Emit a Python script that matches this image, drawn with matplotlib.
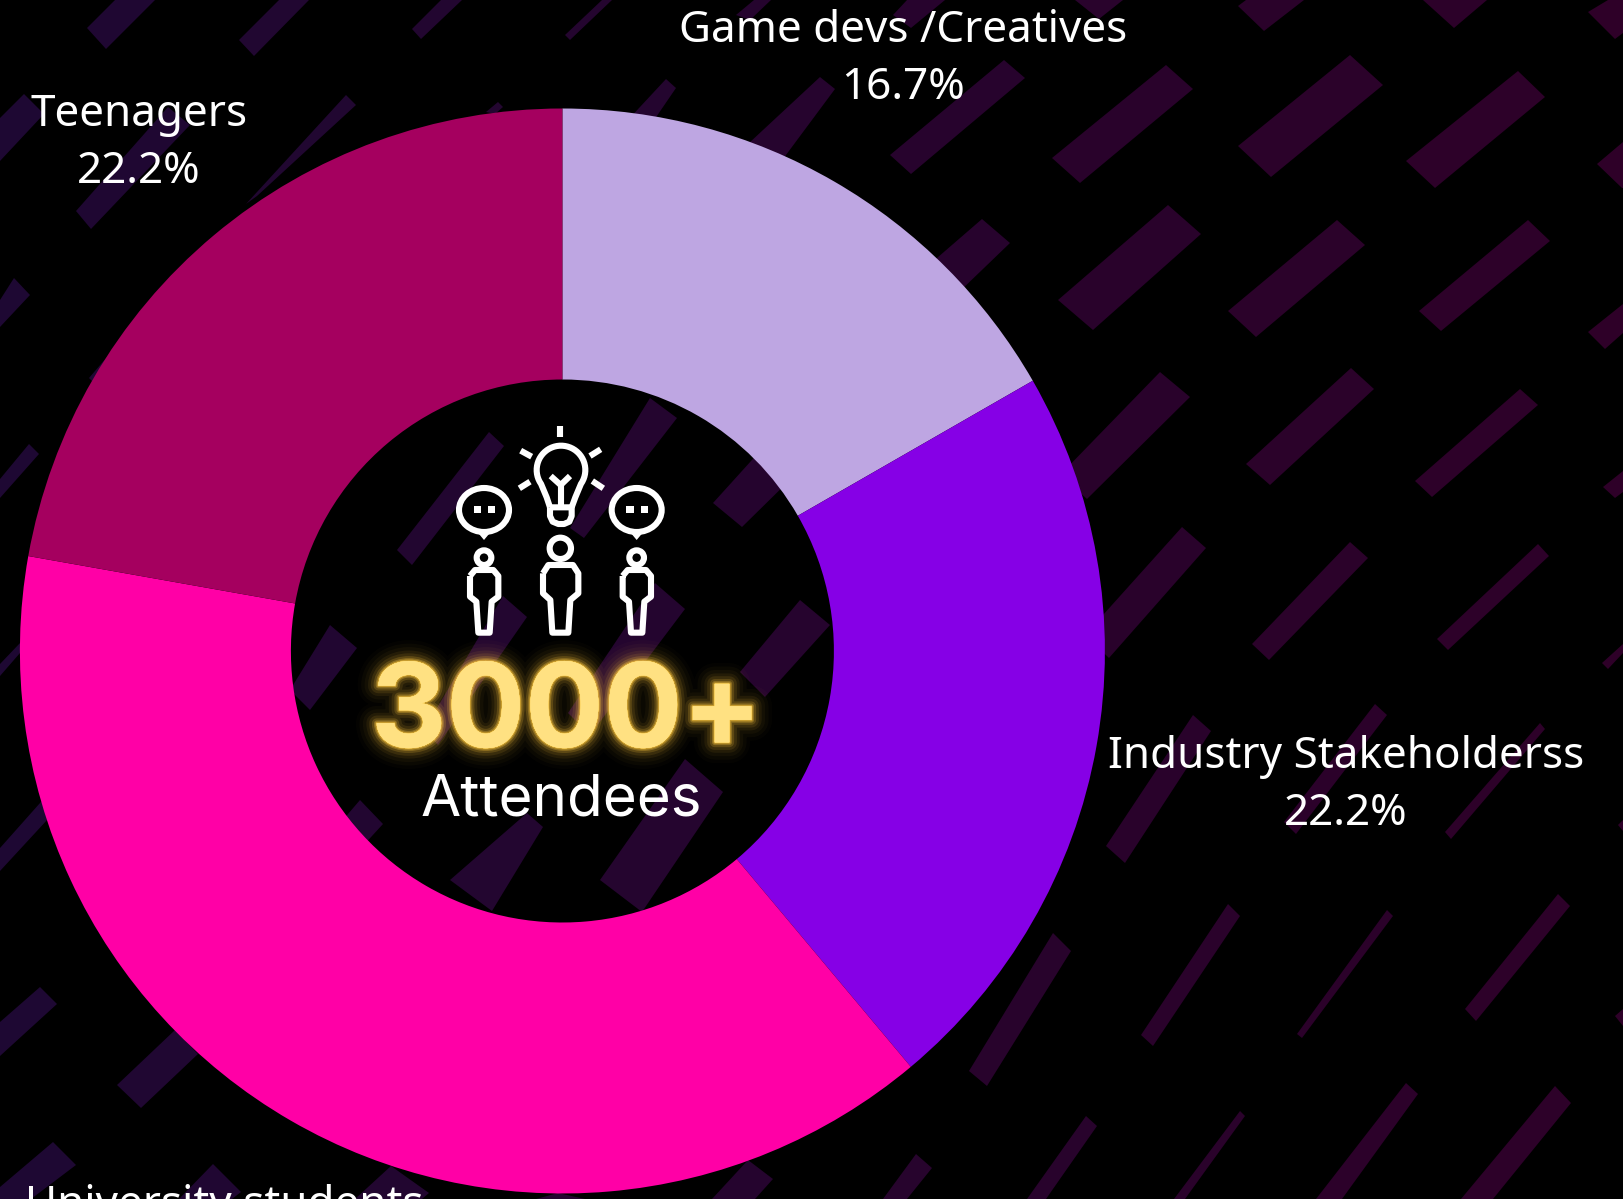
import numpy as np
import matplotlib
matplotlib.use("Agg")
import matplotlib.pyplot as plt
import matplotlib.patheffects as pe
from matplotlib.patches import Polygon, Rectangle, Ellipse, Circle

W, H = 1623, 1199

categories = ["Game devs /Creatives", "Industry Stakeholderss", "University students", "Teenagers"]
shares = [16.7, 22.2, 38.9, 22.2]
colors = ["#BEA6E2", "#8600E6", "#FF00A6", "#A5005F"]

# where each label sits, picture pixels: centre x, baseline of first line
label_pos = [(903, 42), (1346, 768), (224, 1217), (139, 126)]
line_gap = 57

# background dashes, corners in picture pixels
dashes = [
    [(87, 28), (106, 49), (155, 0), (115, 0)],
    [(239, 40), (254, 56), (309, 0), (279, 0)],
    [(412, 29), (421, 39), (462, 0), (441, 0)],
    [(565, 35), (570, 40), (612, 0), (602, 0)],
    [(736, 15), (750, 20), (771, 0), (754, 0)],
    [(893, 15), (911, 28), (945, 0), (907, 0)],
    [(1075, 0), (1099, 19), (1123, 0)],
    [(1238, 6), (1264, 31), (1304, 0), (1246, 0)],
    [(1423, 0), (1454, 28), (1487, 0)],
    [(1588, 12), (1615, 39), (1623, 33), (1623, 0), (1608, 0)],
    [(0, 118), (24, 94), (44, 114), (0, 161)],
    [(76, 211), (91, 229), (190, 125), (168, 107)],
    [(246, 204), (346, 95), (356, 105), (257, 196)],
    [(486, 112), (498, 102), (503, 107), (495, 114)],
    [(600, 150), (620, 170), (676, 88), (666, 79)],
    [(720, 170), (760, 190), (835, 89), (820, 77)],
    [(890, 155), (911, 174), (1025, 78), (1004, 60)],
    [(1052, 158), (1080, 183), (1193, 89), (1166, 65)],
    [(1238, 146), (1271, 177), (1383, 85), (1350, 55)],
    [(1406, 161), (1435, 188), (1545, 97), (1518, 71)],
    [(1597, 164), (1622, 188), (1623, 188), (1623, 142)],
    [(900, 290), (930, 320), (1010, 243), (982, 219)],
    [(1058, 300), (1093, 330), (1201, 234), (1168, 205)],
    [(1228, 311), (1256, 337), (1365, 245), (1337, 220)],
    [(1419, 311), (1441, 331), (1550, 241), (1528, 220)],
    [(1588, 332), (1605, 349), (1623, 333), (1623, 304)],
    [(0, 300), (14, 278), (30, 295), (0, 327)],
    [(89, 378), (94, 383), (115, 365), (107, 357)],
    [(1060, 475), (1087, 499), (1190, 397), (1160, 372)],
    [(1246, 464), (1270, 485), (1374, 389), (1351, 368)],
    [(1415, 481), (1432, 497), (1538, 405), (1520, 389)],
    [(1603, 487), (1615, 498), (1623, 492), (1623, 471)],
    [(0, 479), (29, 444), (39, 454), (0, 498)],
    [(397, 550), (412, 565), (504, 446), (489, 432)],
    [(570, 528), (584, 538), (677, 418), (650, 398)],
    [(713, 503), (742, 527), (800, 470), (770, 440)],
    [(1085, 635), (1109, 658), (1206, 548), (1182, 527)],
    [(1252, 644), (1269, 660), (1368, 558), (1350, 542)],
    [(1437, 639), (1448, 650), (1549, 556), (1538, 544)],
    [(1602, 663), (1608, 669), (1623, 653), (1623, 644)],
    [(424, 730), (438, 745), (527, 617), (503, 596)],
    [(568, 713), (590, 735), (685, 609), (655, 583)],
    [(290, 690), (310, 710), (357, 648), (330, 625)],
    [(740, 672), (765, 697), (830, 625), (800, 600)],
    [(0, 664), (20, 643), (50, 620), (50, 630), (20, 653), (0, 676)],
    [(1106, 846), (1125, 863), (1211, 731), (1193, 715)],
    [(1284, 822), (1296, 834), (1387, 715), (1375, 704)],
    [(1445, 832), (1451, 839), (1545, 729), (1540, 723)],
    [(1618, 825), (1623, 831), (1623, 820)],
    [(0, 848), (40, 803), (80, 760), (90, 775), (48, 819), (0, 871)],
    [(330, 835), (350, 860), (383, 824), (360, 800)],
    [(450, 880), (492, 911), (543, 827), (527, 813)],
    [(600, 880), (642, 912), (723, 792), (685, 759)],
    [(969, 1071), (987, 1086), (1071, 951), (1053, 933)],
    [(1141, 1035), (1153, 1046), (1240, 916), (1228, 904)],
    [(1297, 1034), (1302, 1038), (1393, 916), (1387, 910)],
    [(1465, 1009), (1476, 1021), (1570, 906), (1558, 894)],
    [(1615, 1016), (1623, 1026), (1623, 1009)],
    [(0, 1022), (40, 987), (57, 1004), (0, 1056)],
    [(117, 1085), (141, 1108), (198, 1054), (175, 1030)],
    [(0, 1187), (53, 1142), (76, 1165), (31, 1199), (0, 1199)],
    [(179, 1199), (213, 1164), (241, 1192), (232, 1199)],
    [(355, 1199), (391, 1166), (429, 1193), (422, 1199)],
    [(536, 1199), (558, 1193), (585, 1199)],
    [(712, 1199), (755, 1199), (773, 1179), (748, 1160)],
    [(883, 1199), (907, 1199), (932, 1168), (916, 1154)],
    [(1027, 1199), (1046, 1199), (1097, 1126), (1086, 1116)],
    [(1174, 1199), (1185, 1199), (1245, 1116), (1240, 1111)],
    [(1316, 1199), (1342, 1199), (1418, 1094), (1406, 1083)],
    [(1461, 1199), (1493, 1199), (1571, 1103), (1555, 1086)],
]


def flip(points):
    return [(x, H - y) for x, y in points]


def z(x, y):
    # icon was measured on a 3x crop starting at (360, 410)
    return (360 + x / 3, H - (410 + y / 3))


def dash_color(x):
    t = np.clip(x / W, 0, 1)
    left = np.array([30, 8, 51])
    right = np.array([46, 0, 40])
    return tuple((left + (right - left) * t) / 255)


fig = plt.figure(figsize=(W / 100, H / 100), dpi=100, facecolor="black")
ax = fig.add_axes([0, 0, 1, 1])
ax.set_facecolor("black")

for pts in dashes:
    cx = np.mean([p[0] for p in pts])
    ax.add_patch(Polygon(flip(pts), closed=True, facecolor=dash_color(cx), edgecolor="none", zorder=1))

wedges, _ = ax.pie(shares, colors=colors, startangle=90, counterclock=False, center=(562.4, H - 651),
                   radius=542.5, wedgeprops=dict(width=271, linewidth=0), frame=True)
for w in wedges:
    w.set_zorder(2)

ax.set_xlim(0, W)
ax.set_ylim(0, H)
ax.axis("off")

# labels, the second line of the lowest one falls below the picture
label_font = "Noto Sans"
for name, val, (lx, ly) in zip(categories, shares, label_pos):
    ax.text(lx, H - ly, name, color="white", ha="center", va="baseline", fontsize=31.7,
            family=label_font, zorder=6)
    if ly + line_gap - 35 < H:
        ax.text(lx, H - ly - line_gap, f"{val}%", color="white", ha="center", va="baseline", fontsize=31.7,
                family=label_font, zorder=6)

# centre text
glow = [pe.withStroke(linewidth=lw, foreground="#FFC83C", alpha=a)
        for lw, a in [(30, 0.02), (25, 0.03), (20, 0.04), (15, 0.07), (11, 0.1), (7, 0.18), (4, 0.3), (2, 0.5)]]
glow.append(pe.Normal())
ax.text(566.5, H - 747, "3000+", color="#FFE182", fontsize=84, fontweight="bold", family="Inter",
        ha="center", va="baseline", path_effects=glow, zorder=6)
ax.text(561, H - 816, "Attendees", color="white", fontsize=42, family="Inter",
        ha="center", va="baseline", zorder=6)

# icon: bulb and three people
lw_icon = 4.4
style = dict(facecolor="none", edgecolor="white", linewidth=lw_icon, joinstyle="round", zorder=5)


def line(points):
    verts = [z(*p) for p in points]
    ax.plot([v[0] for v in verts], [v[1] for v in verts], color="white", lw=lw_icon,
            solid_joinstyle="round", solid_capstyle="butt", zorder=5)


def box(x0, y0, x1, y1):
    a, b = z(x0, y1), z(x1, y0)
    ax.add_patch(Rectangle(a, b[0] - a[0], b[1] - a[1], facecolor="white", edgecolor="none", zorder=5))


theta = np.radians(np.linspace(215, -35, 40))
bulb = [(603 + 73 * np.cos(t), 180 - 73 * np.sin(t)) for t in theta]
bulb = [(570, 292), (560, 262)] + bulb + [(646, 262), (635, 292)]
line(bulb)
line([(570, 292), (570, 318), (578, 335), (595, 342), (612, 342), (628, 335), (635, 318), (635, 292), (570, 292)])
line([(572, 198), (602, 225), (630, 198)])
line([(602, 225), (602, 292)])
line([(601, 48), (601, 80)])
line([(482, 122), (515, 140)])
line([(690, 138), (722, 118)])
line([(478, 235), (510, 215)])
line([(697, 213), (730, 235)])

for cx in [372, 830]:
    ax.add_patch(Ellipse(z(cx, 300), 150 / 3, 132 / 3, **style))
    tail = [z(cx - 20, 366), z(cx, 390), z(cx + 20, 366)]
    ax.add_patch(Polygon(tail, closed=True, facecolor="white", edgecolor="none", zorder=5))
    box(cx - 31, 288, cx - 9, 309)
    box(cx + 12, 288, cx + 34, 309)
    ax.add_patch(Circle(z(cx, 443), 22 / 3, **style))
    dx = [-42, -27, 28, 43, 43, 23, 17, -17, -23, -42, -42]
    dy = [498, 480, 480, 498, 560, 575, 668, 668, 575, 560, 498]
    line([(cx + a, b) for a, b in zip(dx, dy)])

ax.add_patch(Circle(z(601, 415), 32 / 3, **style))
dx = [-52, -36, 38, 54, 54, 30, 24, -24, -30, -52, -52]
dy = [490, 465, 465, 490, 550, 570, 668, 668, 570, 550, 490]
line([(601 + a, b) for a, b in zip(dx, dy)])

fig.savefig("out.png", dpi=100, facecolor="black")
